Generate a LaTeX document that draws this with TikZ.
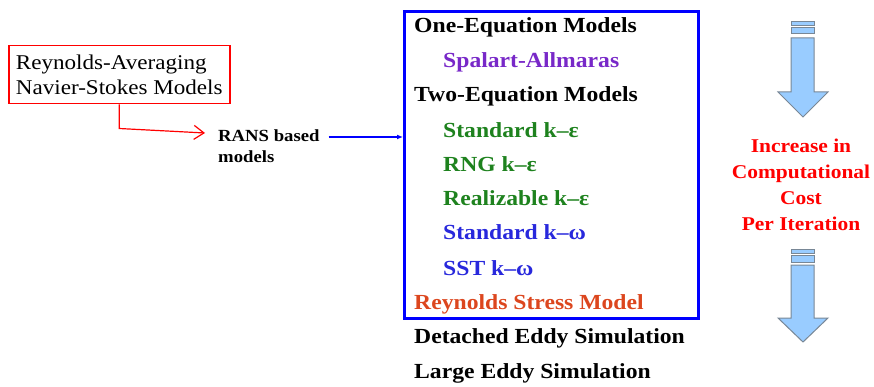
\documentclass[tikz,border=0pt]{standalone}
\usepackage{fontspec}
\setmainfont{Liberation Serif}[FakeStretch=1.1]
\usetikzlibrary{arrows.meta}
\definecolor{modelblue}{RGB}{0,0,255}
\definecolor{spalartpurple}{RGB}{120,40,200}
\definecolor{kegreen}{RGB}{30,130,30}
\definecolor{kwblue}{RGB}{40,40,220}
\definecolor{rsmorange}{RGB}{220,70,30}
\definecolor{arrowfill}{RGB}{153,204,255}
\definecolor{arrowedge}{RGB}{120,135,150}
\begin{document}
\begin{tikzpicture}[x=1pt,y=-1pt,
    item/.style={anchor=base west,inner sep=0pt,font=\fontsize{21.5}{26}\selectfont\bfseries},
    costarrow/.style={fill=arrowfill,draw=arrowedge,line width=1pt}]
  \useasboundingbox (0,0) rectangle (874,387);
  % left side
  \node[draw=red,line width=1.5pt,minimum width=221pt,minimum height=58pt,anchor=north west,align=left,font=\fontsize{21}{25}\selectfont] (rbox) at (8,45) {Reynolds-Averaging\\Navier-Stokes Models};
  \node[anchor=north west,inner sep=0pt,align=left,font=\fontsize{17}{21}\selectfont\bfseries] (rans) at (218,130) {RANS based\\models};
  \draw[red,line width=1.2pt,-{Straight Barb[length=10pt,width=14pt]}] (rbox.south) -- ++(0,24) -- ([xshift=-13pt,yshift=-3pt]rans.north west);
  % model list
  \node[draw=modelblue,line width=3pt,minimum width=294pt,minimum height=307pt,inner sep=0pt,anchor=north west] (modelbox) at (403,10) {};
  \draw[modelblue,line width=1.5pt,-{Latex[length=6pt,width=5pt]}] ([xshift=9pt,yshift=-7pt]rans.north east) coordinate (ransout) -- (ransout -| modelbox.west);
  \node[item] (oneeq) at (414,33) {One-Equation Models};
  \node[item,spalartpurple] (spalart) at (443,68) {Spalart-Allmaras};
  \node[item] (twoeq) at (414,102) {Two-Equation Models};
  \node[item,kegreen] (stdke) at (443,138) {Standard k–ε};
  \node[item,kegreen] (rngke) at (443,172) {RNG k–ε};
  \node[item,kegreen] (realke) at (443,206) {Realizable k–ε};
  \node[item,kwblue] (stdkw) at (443,240) {Standard k–ω};
  \node[item,kwblue] (sstkw) at (443,275) {SST k–ω};
  \node[item,rsmorange] (rsm) at (414,309) {Reynolds Stress Model};
  \node[item] (des) at (414,343) {Detached Eddy Simulation};
  \node[item] (les) at (414,378) {Large Eddy Simulation};
  % cost arrows
  \draw[costarrow] (791,22) rectangle (814,26);
  \draw[costarrow] (791,28) rectangle (814,34);
  \draw[costarrow] (791,38) -- (814,38) -- (814,92) -- (828,92) -- (803,117) -- (778,92) -- (791,92) -- cycle;
  \node[anchor=north,inner sep=0pt,align=center,red,font=\fontsize{19.5}{26}\selectfont\bfseries] (costtext) at (801,139) {Increase in\\Computational\\Cost\\Per Iteration};
  \draw[costarrow] (791,249) rectangle (814,253);
  \draw[costarrow] (791,255) rectangle (814,262);
  \draw[costarrow] (791,265) -- (814,265) -- (814,318) -- (828,318) -- (803,342) -- (778,318) -- (791,318) -- cycle;
\end{tikzpicture}
\end{document}
